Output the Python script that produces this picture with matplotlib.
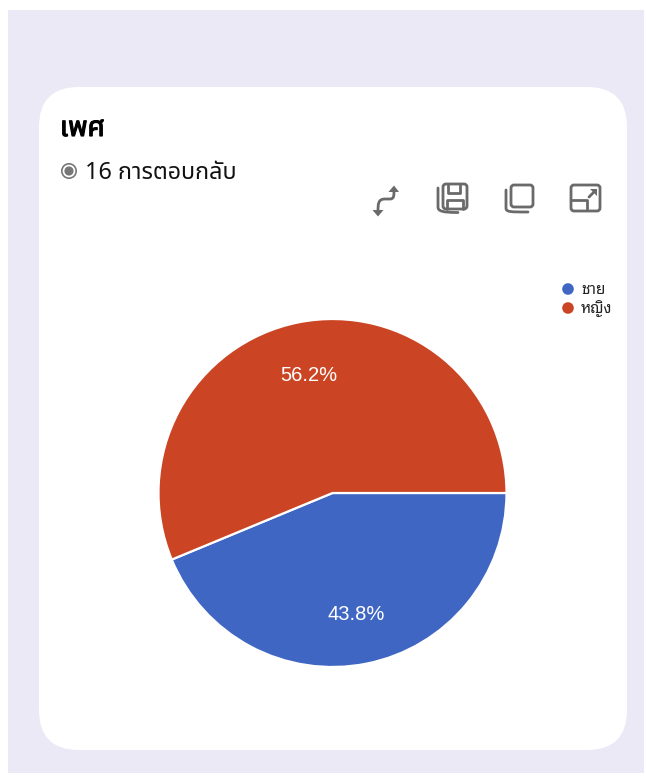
import matplotlib
matplotlib.use("Agg")
import matplotlib.pyplot as plt
import matplotlib.patheffects as pe
from matplotlib.patches import FancyBboxPatch, Circle, Rectangle, PathPatch
from matplotlib.path import Path

plt.rcParams['font.family'] = ['Noto Sans Thai', 'Noto Sans', 'DejaVu Sans']

labels = ["ชาย", "หญิง"]
counts = [7, 9]
colors = ["#4066C4", "#CB4524"]
title = "เพศ"
subtitle = "16 การตอบกลับ"
icon_gray = "#6a6a6a"

fig = plt.figure(figsize=(6.46, 7.76), dpi=100)

# background layer in pixel coordinates
bg = fig.add_axes([0, 0, 1, 1])
bg.set_xlim(0, 646)
bg.set_ylim(776, 0)
bg.axis("off")
bg.add_patch(Rectangle((8, 10), 636, 763, fc="#ECE9F6", ec="none"))
bg.add_patch(FancyBboxPatch((79, 127), 508, 583, boxstyle="round,pad=40,rounding_size=40",
                            fc="white", ec="none"))

bg.text(60, 136, title, fontsize=20, color="black", va="baseline",
        path_effects=[pe.withStroke(linewidth=0.8, foreground="black")])
bg.text(85, 179, subtitle, fontsize=16.8, color="#111111", va="baseline")
bg.add_patch(Circle((69, 171), 7.2, fc="none", ec="#777777", lw=1.2))
bg.add_patch(Circle((69, 171), 4.6, fc="#777777", ec="none"))


def stroke(verts, codes=None):
    bg.add_patch(PathPatch(Path(verts, codes), fc="none", ec=icon_gray, lw=2.0,
                           capstyle="round", joinstyle="round"))


def box(x, y, w, h, r=3):
    bg.add_patch(FancyBboxPatch((x + r, y + r), w - 2 * r, h - 2 * r,
                                boxstyle="round,pad=%d,rounding_size=%d" % (r, r),
                                fc="none", ec=icon_gray, lw=2.0))


# swap icon
C = Path.CURVE4
M = Path.MOVETO
L = Path.LINETO
stroke([(394, 190), (394, 196), (394, 199), (390, 199), (385, 199), (378, 199), (378, 204), (378, 212)],
       [M, C, C, C, L, C, C, C])
bg.add_patch(plt.Polygon([(388.5, 192), (394, 185.5), (399, 192)], fc=icon_gray, ec="none"))
bg.add_patch(plt.Polygon([(372.5, 210), (378, 216.5), (383.5, 210)], fc=icon_gray, ec="none"))

# save icon
box(443, 184, 24, 25)
stroke([(448, 185), (448, 193), (460, 193), (460, 185)])
stroke([(447, 209), (447, 200), (463, 200), (463, 209)])
stroke([(438, 188), (438, 207), (438, 211), (442, 212.5), (458, 212.5)],
       [M, L, C, C, L])

# copy icon
box(511, 185, 22, 22)
stroke([(506, 190), (506, 208), (506, 212), (510, 212), (528, 212)],
       [M, L, C, C, L])

# expand icon
box(571, 185, 29, 26)
stroke([(572, 200), (587, 200), (587, 210)])
stroke([(589, 197), (595, 191)])
bg.add_patch(plt.Polygon([(590, 189), (597, 189), (597, 196)], fc=icon_gray, ec="none"))

# legend
for i, name in enumerate(labels):
    y = 289 + i * 19
    bg.add_patch(Circle((568, y), 5.8, fc=colors[i], ec="none"))
    bg.text(581, y + 5, name, fontsize=11, color="#222222", va="baseline",
            family=['Noto Sans Thai Looped', 'Noto Sans Thai'])

# pie, radius 174 px around (332.5, 493)
ax = fig.add_axes([158.5 / 646, 1 - 667 / 776, 348 / 646, 348 / 776])
wedges, texts, autotexts = ax.pie(counts, colors=colors, startangle=202.5, radius=1,
                                  autopct="%.1f%%", pctdistance=0.70,
                                  wedgeprops={"edgecolor": "white", "linewidth": 1.6})
for t in autotexts:
    t.set_color("white")
    t.set_fontsize(14.5)
    t.set_family(['Liberation Sans'])
    px, py = t.get_position()
    t.set_position((px, py - 0.012))
ax.set_xlim(-1, 1)
ax.set_ylim(-1, 1)

fig.savefig("out.png", dpi=100)
